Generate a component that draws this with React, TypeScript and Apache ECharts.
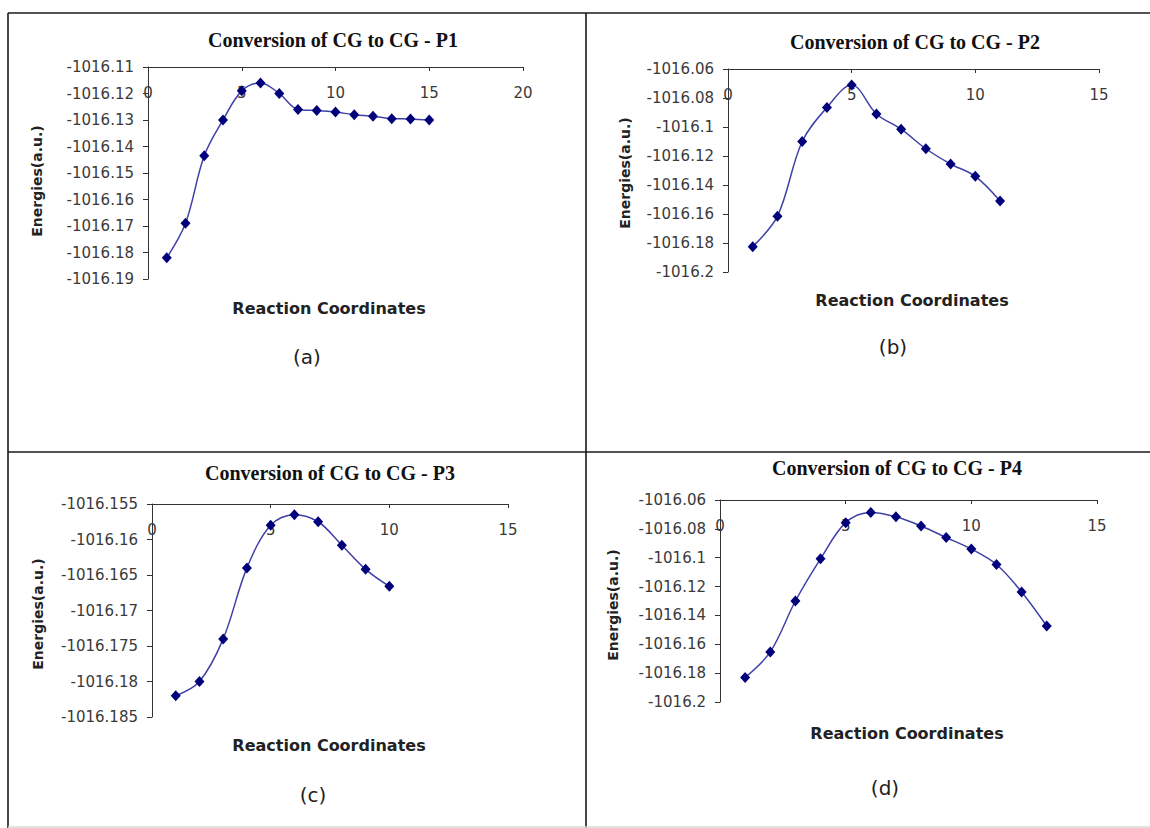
import React, { useEffect, useRef } from "react";
import * as echarts from "echarts";

// Reaction coordinates (x) and energies (a.u.) for each panel
const coordsP1 = [1, 2, 3, 4, 5, 6, 7, 8, 9, 10, 11, 12, 13, 14, 15];
const energiesP1 = [
  -1016.182, -1016.169, -1016.1435, -1016.13, -1016.119, -1016.116, -1016.12,
  -1016.126, -1016.1264, -1016.127, -1016.128, -1016.1286, -1016.1295,
  -1016.1296, -1016.13,
];

const coordsP2 = [1, 2, 3, 4, 5, 6, 7, 8, 9, 10, 11];
const energiesP2 = [
  -1016.1825, -1016.1615, -1016.11, -1016.0865, -1016.071, -1016.091,
  -1016.1015, -1016.115, -1016.1255, -1016.134, -1016.151,
];

const coordsP3 = [1, 2, 3, 4, 5, 6, 7, 8, 9, 10];
const energiesP3 = [
  -1016.182, -1016.18, -1016.174, -1016.164, -1016.158, -1016.1565,
  -1016.1575, -1016.1608, -1016.1642, -1016.1666,
];

const coordsP4 = [1, 2, 3, 4, 5, 6, 7, 8, 9, 10, 11, 12, 13];
const energiesP4 = [
  -1016.183, -1016.1653, -1016.13, -1016.1008, -1016.0757, -1016.0686,
  -1016.0716, -1016.078, -1016.086, -1016.094, -1016.1047, -1016.1237,
  -1016.1473,
];

const titles = [
  "Conversion of CG to CG - P1",
  "Conversion of CG to CG - P2",
  "Conversion of CG to CG - P3",
  "Conversion of CG to CG - P4",
];
const panelTags = ["(a)", "(b)", "(c)", "(d)"];
const xAxisMax = [20, 15, 15, 15];
const yAxisMin = [-1016.19, -1016.2, -1016.185, -1016.2];
const yAxisMax = [-1016.11, -1016.06, -1016.155, -1016.06];
const yAxisStep = [0.01, 0.02, 0.005, 0.02];
const xAxisName = "Reaction Coordinates";
const yAxisName = "Energies(a.u.)";

const coords = [coordsP1, coordsP2, coordsP3, coordsP4];
const energies = [energiesP1, energiesP2, energiesP3, energiesP4];

// layout (pixels)
const layout = [
  { grid: { left: 148, top: 67, width: 375, height: 212 }, title: [333, 40], yName: [37, 181], xName: [329, 308], tag: [307, 357] },
  { grid: { left: 728, top: 69, width: 371, height: 203 }, title: [915, 42], yName: [625, 173], xName: [912, 300], tag: [893, 347] },
  { grid: { left: 152, top: 504, width: 356, height: 213 }, title: [330, 473], yName: [38, 614], xName: [329, 745], tag: [313, 795] },
  { grid: { left: 720, top: 500, width: 377, height: 202 }, title: [897, 468], yName: [613, 605], xName: [907, 733], tag: [885, 788] },
];

const SANS = "DejaVu Sans";

export default function App() {
  const ref = useRef<HTMLDivElement>(null);

  useEffect(() => {
    if (!ref.current) return;
    const chart = echarts.init(ref.current, undefined, { renderer: "svg" });

    const grids = layout.map((l) => ({ ...l.grid, containLabel: false }));
    const xAxes = layout.map((_, i) => ({
      type: "value",
      gridIndex: i,
      position: "top",
      min: 0,
      max: xAxisMax[i],
      interval: 5,
      axisLine: { show: true, onZero: false, lineStyle: { color: "#333", width: 1 } },
      axisTick: { show: true, inside: true, length: 4, lineStyle: { color: "#333" } },
      axisLabel: {
        inside: true,
        margin: 18,
        color: "#3a3a3a",
        fontFamily: SANS,
        fontSize: 15,
      },
      splitLine: { show: false },
    }));
    const yAxes = layout.map((_, i) => ({
      type: "value",
      gridIndex: i,
      min: yAxisMin[i],
      max: yAxisMax[i],
      interval: yAxisStep[i],
      axisLine: { show: true, onZero: false, lineStyle: { color: "#333", width: 1 } },
      axisTick: { show: true, inside: false, length: 5, lineStyle: { color: "#333" } },
      axisLabel: {
        margin: 14,
        color: "#3a3a3a",
        fontFamily: SANS,
        fontSize: 15,
        formatter: (v: number) => String(parseFloat(v.toFixed(4))),
      },
      splitLine: { show: false },
    }));
    const series = layout.map((_, i) => ({
      type: "line",
      xAxisIndex: i,
      yAxisIndex: i,
      smooth: 0.35,
      symbol: "diamond",
      symbolSize: [10, 11],
      lineStyle: { color: "#4040a8", width: 1.5 },
      itemStyle: { color: "#00007a" },
      data: coords[i].map((x, j) => [x, energies[i][j]]),
    }));

    const graphics: any[] = [];
    layout.forEach((l, i) => {
      graphics.push({
        type: "text",
        x: l.title[0],
        y: l.title[1],
        style: {
          text: titles[i],
          fontFamily: "Liberation Serif",
          fontWeight: "bold",
          fontSize: 20,
          fill: "#111",
          textAlign: "center",
          textVerticalAlign: "middle",
        },
      });
      graphics.push({
        type: "text",
        x: l.yName[0],
        y: l.yName[1],
        rotation: Math.PI / 2,
        style: {
          text: yAxisName,
          fontFamily: SANS,
          fontWeight: "bold",
          fontSize: 14,
          fill: "#222",
          textAlign: "center",
          textVerticalAlign: "middle",
        },
      });
      graphics.push({
        type: "text",
        x: l.xName[0],
        y: l.xName[1],
        style: {
          text: xAxisName,
          fontFamily: SANS,
          fontWeight: "bold",
          fontSize: 16,
          fill: "#222",
          textAlign: "center",
          textVerticalAlign: "middle",
        },
      });
      graphics.push({
        type: "text",
        x: l.tag[0],
        y: l.tag[1],
        style: {
          text: panelTags[i],
          fontFamily: SANS,
          fontSize: 20,
          fill: "#222",
          textAlign: "center",
          textVerticalAlign: "middle",
        },
      });
    });
    const border = { stroke: "#1a1a1a", lineWidth: 1.6 };
    graphics.push(
      { type: "line", shape: { x1: 8, y1: 13, x2: 1150, y2: 13 }, style: border },
      { type: "line", shape: { x1: 8, y1: 13, x2: 8, y2: 828 }, style: border },
      { type: "line", shape: { x1: 586, y1: 13, x2: 586, y2: 828 }, style: border },
      { type: "line", shape: { x1: 8, y1: 452, x2: 1150, y2: 452 }, style: border },
      { type: "line", shape: { x1: 8, y1: 827, x2: 1150, y2: 827 }, style: { stroke: "#d8d8d8", lineWidth: 1.5 } }
    );

    chart.setOption({
      animation: false,
      backgroundColor: "#ffffff",
      grid: grids,
      xAxis: xAxes,
      yAxis: yAxes,
      series,
      graphic: graphics,
    });

    return () => chart.dispose();
  }, []);

  return (
    <div
      ref={ref}
      style={{ position: "fixed", left: 0, top: 0, width: 1150, height: 828, background: "#fff" }}
    />
  );
}
